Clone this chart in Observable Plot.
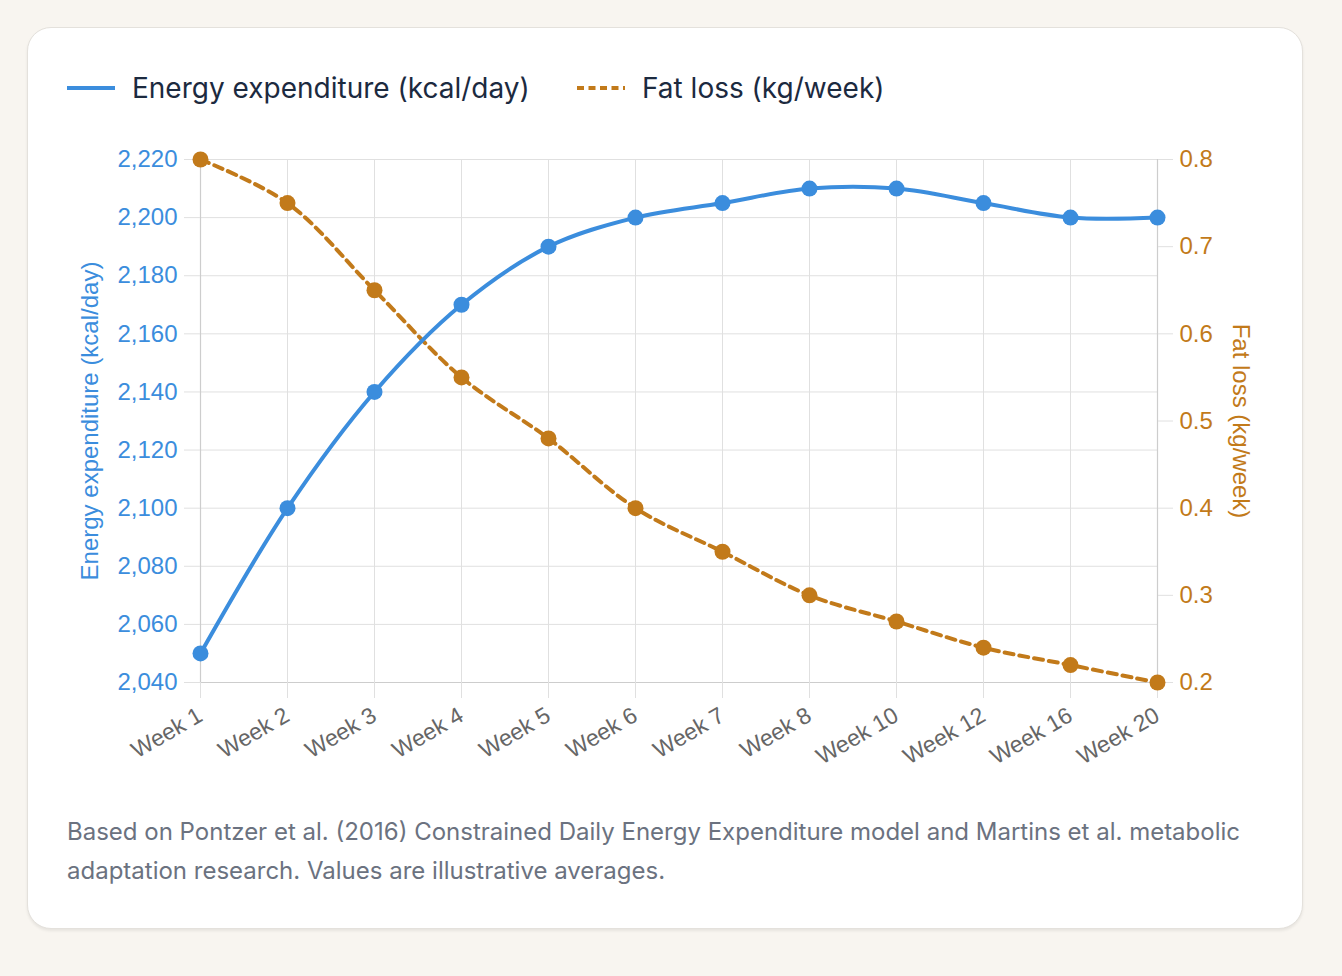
<!DOCTYPE html>
<html><head><meta charset="utf-8">
<script src="https://cdn.jsdelivr.net/npm/d3@7"></script>
<script src="https://cdn.jsdelivr.net/npm/@observablehq/plot@0.6"></script>
<style>
body{margin:0;background:#f8f5f0;width:1342px;height:976px;position:relative;overflow:hidden;font-family:Inter,sans-serif}
#card{position:absolute;left:27px;top:27px;width:1274px;height:900px;background:#fff;border:1px solid #e4e1dc;border-radius:24px;box-shadow:0 2px 3px rgba(0,0,0,0.07)}
.leg{position:absolute;top:70px;height:36px;display:flex;align-items:center;font-size:28px;color:#1c2a3f;white-space:nowrap}
.leg svg{margin-right:17px}
#chart{position:absolute;left:40px;top:140px}
#caption{position:absolute;left:67px;top:812px;width:1210px;font-size:24px;line-height:39px;color:#6b7280}
</style></head>
<body>
<div id="card"></div>
<div class="leg" style="left:67px"><svg width="48" height="6"><line x1="0" x2="48" y1="3" y2="3" stroke="#3b8ddd" stroke-width="4"/></svg>Energy expenditure (kcal/day)</div>
<div class="leg" style="left:577px"><svg width="48" height="6"><line x1="0" x2="48" y1="3" y2="3" stroke="#c27a1a" stroke-width="4" stroke-dasharray="7,4.5"/></svg>Fat loss (kg/week)</div>
<div id="chart"></div>
<div id="caption">Based on Pontzer et al. (2016) Constrained Daily Energy Expenditure model and Martins et al. metabolic adaptation research. Values are illustrative averages.</div>
<script>
const weeks = ["Week 1","Week 2","Week 3","Week 4","Week 5","Week 6","Week 7","Week 8","Week 10","Week 12","Week 16","Week 20"];
const energy = [2050,2100,2140,2170,2190,2200,2205,2210,2210,2205,2200,2200];
const fatLoss = [0.80,0.75,0.65,0.55,0.48,0.40,0.35,0.30,0.27,0.24,0.22,0.20];
const leftTicks = [2040,2060,2080,2100,2120,2140,2160,2180,2200,2220];
const rightTicks = [0.2,0.3,0.4,0.5,0.6,0.7,0.8];
const leftTitle = "Energy expenditure (kcal/day)";
const rightTitle = "Fat loss (kg/week)";

const blue = "#3b8ddd", orange = "#c27a1a";
const L0 = leftTicks[0], L1 = leftTicks[leftTicks.length-1];
const R0 = rightTicks[0], R1 = rightTicks[rightTicks.length-1];
const toLeft = v => L0 + (v - R0) / (R1 - R0) * (L1 - L0);
const fromLeft = v => R0 + (v - L0) / (L1 - L0) * (R1 - R0);

const rows = weeks.map((w,i) => ({week:w, energy:energy[i], fat:toLeft(fatLoss[i])}));

const chart = Plot.plot({
  width:1260, height:640,
  marginLeft:160, marginRight:143, marginTop:19, marginBottom:98,
  style:{fontFamily:"'Liberation Sans', Arial, sans-serif", fontSize:"24px", background:"transparent", overflow:"visible"},
  x:{type:"point", domain:weeks, padding:0},
  y:{domain:[L0, L1]},
  marks:[
    Plot.gridY(leftTicks, {stroke:"#e0e0e0", strokeOpacity:1}),
    Plot.gridX(weeks, {stroke:"#e0e0e0", strokeOpacity:1}),
    Plot.ruleY([L0], {stroke:"#cdcdcd", strokeWidth:1.2}),
    Plot.ruleX([weeks[0], weeks[weeks.length-1]], {stroke:"#cdcdcd", strokeWidth:1.2}),
    Plot.axisY(leftTicks, {anchor:"left", tickSize:16, tickPadding:7, stroke:"#e0e0e0", fill:blue, tickFormat:d3.format(","), label:null}),
    Plot.axisY(rightTicks.map(toLeft), {anchor:"right", tickSize:15, tickPadding:7, stroke:"#e0e0e0", fill:orange, tickFormat:v => d3.format(".1f")(fromLeft(v)), label:null}),
    Plot.axisX(weeks, {tickSize:16, tickPadding:15, tickRotate:-30, stroke:"#e0e0e0", fill:"#666", fontSize:23, label:null}),
    Plot.text([leftTitle], {text:d=>d, frameAnchor:"left", textAnchor:"middle", rotate:-90, dx:-110, fill:blue, fontSize:24}),
    Plot.text([rightTitle], {text:d=>d, frameAnchor:"right", textAnchor:"middle", rotate:90, dx:83, fill:orange, fontSize:24}),
    Plot.line(rows, {x:"week", y:"fat", stroke:orange, strokeWidth:4, strokeDasharray:"9,6", curve:"catmull-rom"}),
    Plot.dot(rows, {x:"week", y:"fat", r:8, fill:orange}),
    Plot.line(rows, {x:"week", y:"energy", stroke:blue, strokeWidth:4, curve:"catmull-rom"}),
    Plot.dot(rows, {x:"week", y:"energy", r:8, fill:blue})
  ]
});
document.getElementById("chart").appendChild(chart);
</script>
</body></html>
